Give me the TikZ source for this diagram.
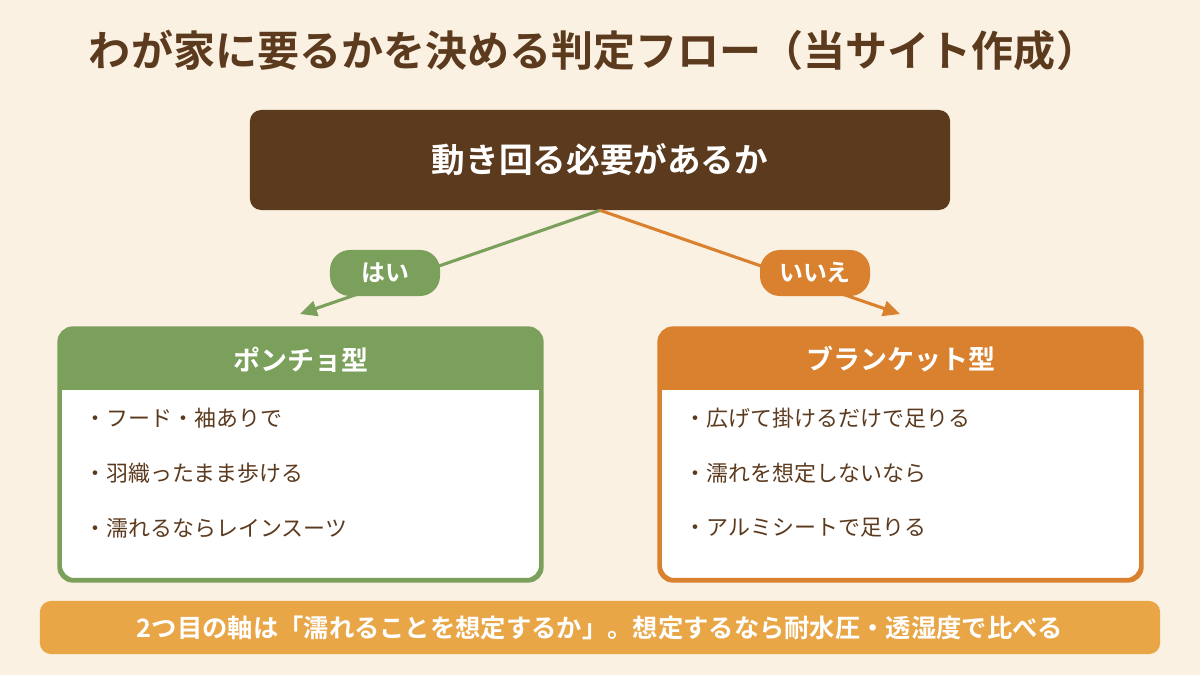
\documentclass[tikz,border=0pt]{standalone}
\usepackage{fontspec}
\setmainfont{Noto Sans CJK JP}[BoldFont={Noto Sans CJK JP Bold}]
\usetikzlibrary{arrows.meta, positioning}
\definecolor{BgCream}{RGB}{250,241,227}
\definecolor{DarkBrown}{RGB}{91,58,30}
\definecolor{TextBrown}{RGB}{92,58,30}
\definecolor{LeafGreen}{RGB}{123,160,91}
\definecolor{RustOrange}{RGB}{217,129,46}
\definecolor{SandOrange}{RGB}{233,166,71}

\begin{document}
\begin{tikzpicture}[x=0.025cm,y=-0.025cm,
        card/.style={draw=#1,fill=white,line width=2.2pt,rounded corners=10pt,
                     minimum width=12.0cm,minimum height=6.25cm,inner sep=0pt},
        head/.style={font=\fontsize{19.2pt}{21pt}\selectfont\bfseries,text=white},
        item/.style={anchor=west,font=\fontsize{15.6pt}{17pt}\selectfont,text=TextBrown},
        pill/.style={fill=#1,rounded corners=0.5cm,minimum width=2.75cm,minimum height=1.15cm,
                     font=\fontsize{17pt}{18pt}\selectfont\bfseries,text=white,inner sep=0pt},
        arrow/.style={-{Triangle[length=12pt,width=11pt]},line width=2.2pt,#1}]
        \fill[BgCream] (0,0) rectangle (1200,675);
        \useasboundingbox (0,0) rectangle (1200,675);

        \node[anchor=west,font=\fontsize{29.9pt}{32pt}\selectfont\bfseries,text=TextBrown] (title) at (84,50)
          {わが家に要るかを決める判定フロー（当サイト作成）};

        \node[fill=DarkBrown,rounded corners=8pt,minimum width=17.5cm,minimum height=2.5cm,
              font=\fontsize{23.9pt}{26pt}\selectfont\bfseries,text=white] (ask) at (600,160)
          {動き回る必要があるか};

        % branches
        \coordinate (yestip) at (300,314);
        \coordinate (notip)  at (900,314);
        \draw[arrow=LeafGreen] (ask.south) -- (yestip);
        \draw[arrow=RustOrange] (ask.south) -- (notip);
        \node[pill=LeafGreen] (yes) at (385,273) {はい};
        \node[pill=RustOrange] (no) at (815,273) {いいえ};

        % poncho card
        \node[card=LeafGreen] (poncho) at (300.5,454.5) {};
        \begin{scope}
          \clip[rounded corners=10pt] (poncho.north west) rectangle (poncho.south east);
          \fill[LeafGreen] (poncho.north west) rectangle ([yshift=-1.55cm]poncho.north east);
        \end{scope}
        \draw[LeafGreen,line width=2.2pt,rounded corners=10pt] (poncho.north west) rectangle (poncho.south east);
        \node[head] (ponchohead) at (300.5,359.5) {ポンチョ型};
        \node[item] (p1) at (80,418) {・フード・袖ありで};
        \node[item] (p2) at (80,473) {・羽織ったまま歩ける};
        \node[item] (p3) at (80,528) {・濡れるならレインスーツ};

        % blanket card
        \node[card=RustOrange] (blanket) at (900.5,454.5) {};
        \begin{scope}
          \clip[rounded corners=10pt] (blanket.north west) rectangle (blanket.south east);
          \fill[RustOrange] (blanket.north west) rectangle ([yshift=-1.55cm]blanket.north east);
        \end{scope}
        \draw[RustOrange,line width=2.2pt,rounded corners=10pt] (blanket.north west) rectangle (blanket.south east);
        \node[head] (blankethead) at (900.5,359.5) {ブランケット型};
        \node[item] (b1) at (680,418) {・広げて掛けるだけで足りる};
        \node[item] (b2) at (680,473) {・濡れを想定しないなら};
        \node[item] (b3) at (680,528) {・アルミシートで足りる};

        \node[fill=SandOrange,rounded corners=8pt,minimum width=28cm,minimum height=1.33cm,
              font=\fontsize{18pt}{20pt}\selectfont\bfseries,text=white] (note) at (600,627.5)
          {2つ目の軸は「濡れることを想定するか」。想定するなら耐水圧・透湿度で比べる};
      \end{tikzpicture}
\end{document}
